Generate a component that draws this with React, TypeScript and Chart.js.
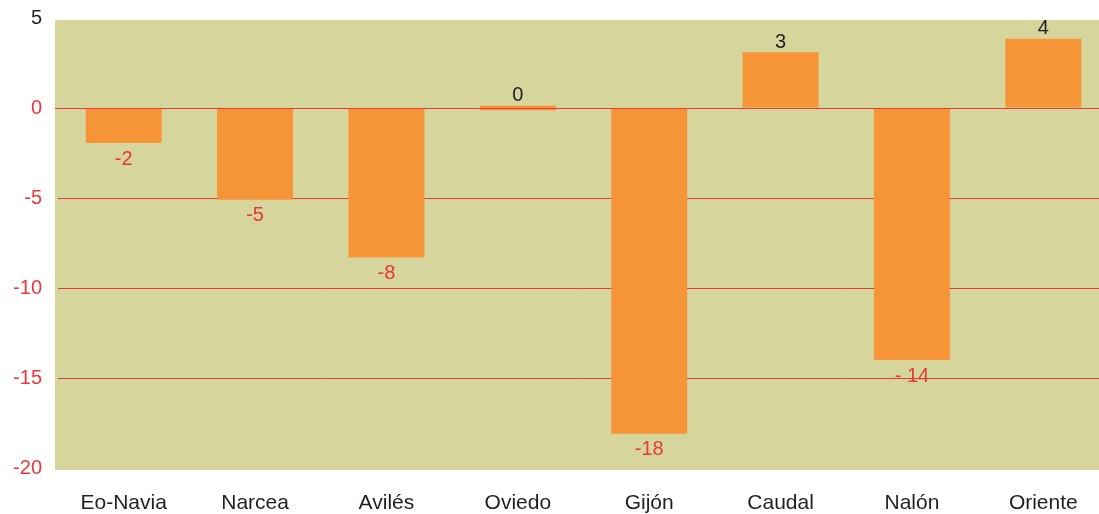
import React, { useEffect, useRef } from "react";
import { Chart, registerables } from "chart.js";

Chart.register(...registerables);

const categories = ["Eo-Navia", "Narcea", "Avilés", "Oviedo", "Gijón", "Caudal", "Nalón", "Oriente"];
const values = [-1.95, -5.1, -8.3, 0.13, -18.1, 3.1, -14.0, 3.85];
const bases = [0, 0, 0, -0.13, 0, 0, 0, 0];
const valueLabels = ["-2", "-5", "-8", "0", "-18", "3", "- 14", "4"];
const yTicks = [5, 0, -5, -10, -15, -20];

const RED = "#e8383d";
const DARK = "#231f20";
const ORANGE = "#f69538";
const BG = "#d5d59c";
const FONT = "'Liberation Sans', Arial, Helvetica, sans-serif";

const bgPlugin = {
  id: "bgPlugin",
  beforeDraw(chart: any) {
    const { ctx, chartArea } = chart;
    ctx.save();
    ctx.fillStyle = BG;
    ctx.fillRect(55, chartArea.top + 2, chartArea.right - 55, chartArea.bottom - chartArea.top);
    ctx.restore();
  },
};

const labelPlugin = {
  id: "labelPlugin",
  afterDatasetsDraw(chart: any) {
    const { ctx, chartArea } = chart;
    const yScale = chart.scales.y;
    const y0 = Math.round(yScale.getPixelForValue(0)) + 0.5;
    ctx.save();
    ctx.strokeStyle = RED;
    ctx.lineWidth = 1.2;
    ctx.beginPath();
    ctx.moveTo(55, y0);
    ctx.lineTo(chartArea.right, y0);
    ctx.stroke();

    const meta = chart.getDatasetMeta(0);
    ctx.font = `20px ${FONT}`;
    ctx.textAlign = "center";
    ctx.textBaseline = "middle";
    meta.data.forEach((bar: any, i: number) => {
      const v = values[i];
      const top = Math.min(bar.y, bar.base);
      const bottom = Math.max(bar.y, bar.base);
      if (v < 0) {
        ctx.fillStyle = RED;
        ctx.fillText(valueLabels[i], bar.x, bottom + 16);
      } else {
        ctx.fillStyle = DARK;
        ctx.fillText(valueLabels[i], bar.x, top - 10);
      }
    });
    ctx.restore();
  },
};

export default function App() {
  const ref = useRef<HTMLCanvasElement>(null);
  useEffect(() => {
    document.body.style.margin = "0";
    document.body.style.overflow = "hidden";
    document.documentElement.style.overflow = "hidden";
    const chart = new Chart(ref.current!, {
      type: "bar",
      data: {
        labels: categories,
        datasets: [
          {
            data: values.map((v, i) => [bases[i], v]) as any,
            backgroundColor: ORANGE,
            borderWidth: 0,
            barPercentage: 0.578,
            categoryPercentage: 1,
          },
        ],
      },
      options: {
        responsive: false,
        animation: false,
        devicePixelRatio: 1,
        layout: { padding: { top: 18, right: 1, left: 0, bottom: 0 } },
        plugins: { legend: { display: false }, tooltip: { enabled: false } },
        scales: {
          x: {
            grid: { display: false, drawTicks: false },
            border: { display: false },
            ticks: { color: DARK, font: { family: FONT, size: 21 }, padding: 23 },
            afterFit(scale: any) {
              scale.height = 46;
              scale.paddingLeft = 0;
              scale.paddingRight = 0;
            },
          },
          y: {
            min: -20,
            max: 5,
            afterBuildTicks(scale: any) {
              scale.ticks = yTicks.map((v) => ({ value: v }));
            },
            grid: {
              drawTicks: false,
              color: (c: any) =>
                c.tick && (c.tick.value === 5 || c.tick.value === -20 || c.tick.value === 0) ? "rgba(0,0,0,0)" : RED,
              lineWidth: 1,
            },
            border: { display: false },
            ticks: {
              color: (c: any) => (c.tick && c.tick.value === 5 ? DARK : RED),
              font: { family: FONT, size: 20 },
              padding: 16,
            },
            afterFit(scale: any) {
              scale.width = 58;
              scale.paddingTop = 0;
              scale.paddingBottom = 0;
            },
          },
        },
      },
      plugins: [bgPlugin, labelPlugin],
    });
    return () => chart.destroy();
  }, []);
  return (
    <div style={{ width: 1110, height: 514 }}>
      <canvas ref={ref} width={1110} height={514} />
    </div>
  );
}
